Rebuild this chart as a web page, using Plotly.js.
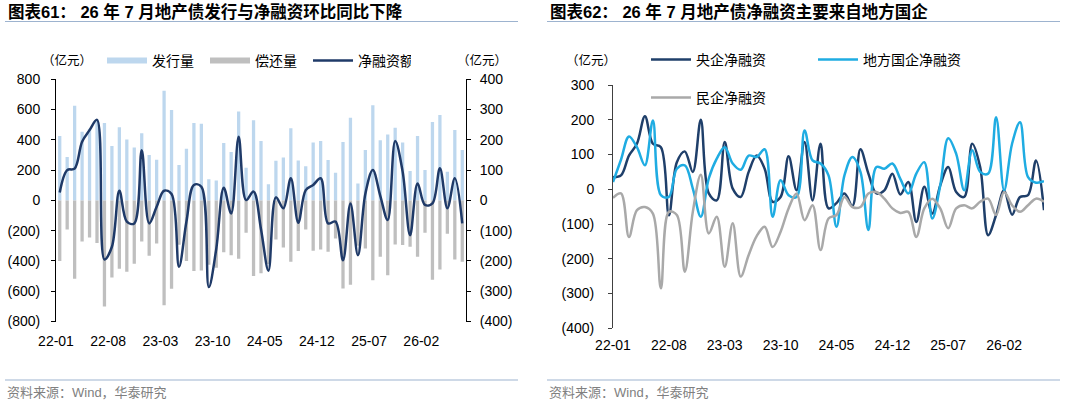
<!DOCTYPE html>
<html>
<head>
<meta charset="utf-8">
<script src="https://cdn.plot.ly/plotly-3.0.1.min.js"></script>
<style>
  body { margin: 0; background: #fff; }
  #chart { width: 1080px; height: 406px; }
</style>
</head>
<body>
<div id="chart"></div>
<script>
// months 22-01 .. 26-07
var months = [];
for (var yy = 22; yy <= 26; yy++) {
  for (var mm = 1; mm <= 12; mm++) {
    if (yy === 26 && mm > 7) break;
    months.push(yy + '-' + (mm < 10 ? '0' : '') + mm);
  }
}
var tickLabels = ['22-01', '22-08', '23-03', '23-10', '24-05', '24-12', '25-07', '26-02'];

// left chart: issuance / repayment (left axis), net financing (right axis), 亿元
var issue = [425, 286, 626, 454, 474, 531, 511, 359, 483, 403, 350, 443, 300, 269, 725, 597, 234, 342, 511, 507,
  139, 132, 379, 319, 588, 216, 529, 392, 106, 262, 284, 476, 264, 225, 383, 392, 267, 183, 386, 546,
  112, 333, 628, 397, 436, 480, 383, 194, 425, 200, 518, 564, 190, 465, 333];
var repay = [-401, -192, -518, -271, -245, -282, -701, -509, -452, -472, -419, -271, -366, -284, -692, -584, -293, -400, -467, -463,
  -425, -445, -342, -362, -385, -214, -499, -482, -420, -258, -311, -405, -335, -193, -333, -324, -339, -251, -582, -557,
  -300, -317, -527, -372, -494, -291, -295, -306, -372, -214, -524, -456, -220, -390, -405];
var net = [26, 100, 105, 194, 232, 266, -195, -153, 32, -70, -76, 166, -76, -21, 32, 21, -219, -70, 51, 45,
  -286, -160, 42, -43, 210, 1, 29, -95, -232, 10, -26, 73, -74, 34, 51, 73, -76, -70, -198, -10,
  -181, 22, 100, 15, -65, 196, 95, -115, 56, -15, -10, 106, -26, 73, -76];

// right chart: net financing by issuer type, 亿元
var centralSoe = [35, 40, 97, 131, 210, 131, 121, -75, 78, 109, 50, 200, -12, -32, 136, 2, -22, 50, 97, 59,
  -36, -22, 95, -3, 136, -32, 131, -55, -40, -12, -48, 115, 45, -12, -3, 45, -15, 21, -94, 7,
  -70, 11, 64, -8, -22, 131, 64, -132, -74, -3, -73, -22, -17, 83, -60];
var localSoe = [21, 85, 152, 121, 69, 198, -17, -22, 59, 69, 2, -79, 31, 88, 121, 74, 56, 97, 93, 115,
  -79, 26, -17, -22, 169, 83, 74, 40, -108, 40, 93, 50, -117, 64, 59, 74, 30, -12, 45, 78,
  -84, 11, 147, 102, -3, 112, 50, 45, 207, -3, 131, 193, 35, 19, 23];
var privateEnt = [-25, -12, -137, -60, -51, -70, -285, -65, -74, -237, -65, 42, -127, -79, -223, -98, -251, -189, -135, -108,
  -166, -122, -55, -12, -89, -46, -175, -84, -74, -22, -51, -51, -12, -8, -27, -55, -68, -65, -137, -55,
  -27, -55, -112, -55, -46, -55, -36, -27, -74, -8, -46, -65, -46, -27, -36];

var leftTickVals = [-800, -600, -400, -200, 0, 200, 400, 600, 800];
var leftTickText = ['(800)', '(600)', '(400)', '(200)', '0', '200', '400', '600', '800'];
var rightTickVals = [-400, -300, -200, -100, 0, 100, 200, 300, 400];
var rightTickText = ['(400)', '(300)', '(200)', '(100)', '0', '100', '200', '300', '400'];
var chart2TickVals = [-400, -300, -200, -100, 0, 100, 200, 300];
var chart2TickText = ['(400)', '(300)', '(200)', '(100)', '0', '100', '200', '300'];

var FONT = "'Liberation Sans', 'Noto Sans CJK SC', sans-serif";
var W = 1080, H = 406;
function px(x) { return x / W; }
function py(y) { return 1 - y / H; }

var idx = months.map(function (m, i) { return i; });
var labelPos = tickLabels.map(function (t) { return months.indexOf(t); });

var data = [
  // legend-only swatches for the bars (wide flat swatches like the reference)
  { x: [null], y: [null], type: 'scatter', mode: 'lines', name: '发行量', legend: 'legend',
    line: { color: '#BDD7EE', width: 6 }, xaxis: 'x', yaxis: 'y', hoverinfo: 'skip' },
  { x: [null], y: [null], type: 'scatter', mode: 'lines', name: '偿还量', legend: 'legend',
    line: { color: '#BFBFBF', width: 6 }, xaxis: 'x', yaxis: 'y', hoverinfo: 'skip' },
  { x: idx, y: issue, type: 'bar', name: '发行量', showlegend: false, width: 0.44,
    marker: { color: '#BDD7EE' }, xaxis: 'x', yaxis: 'y' },
  { x: idx, y: repay, type: 'bar', name: '偿还量', showlegend: false, width: 0.44,
    marker: { color: '#BFBFBF' }, xaxis: 'x', yaxis: 'y' },
  { x: idx, y: net, type: 'scatter', mode: 'lines', name: '净融资额', legend: 'legend',
    line: { color: '#1F3A68', width: 2.5, shape: 'spline', smoothing: 1 }, xaxis: 'x', yaxis: 'y2' },

  { x: idx, y: centralSoe, type: 'scatter', mode: 'lines', name: '央企净融资', legend: 'legend2',
    line: { color: '#1F3F6A', width: 2.5, shape: 'spline', smoothing: 1 }, xaxis: 'x2', yaxis: 'y3' },
  { x: idx, y: localSoe, type: 'scatter', mode: 'lines', name: '地方国企净融资', legend: 'legend2',
    line: { color: '#1FACE2', width: 2.5, shape: 'spline', smoothing: 1 }, xaxis: 'x2', yaxis: 'y3' },
  { x: idx, y: privateEnt, type: 'scatter', mode: 'lines', name: '民企净融资', legend: 'legend3',
    line: { color: '#A9A9A9', width: 2.5, shape: 'spline', smoothing: 1 }, xaxis: 'x2', yaxis: 'y3' }
];

var leftDomY = [py(321.5), py(79.3)];
var rightDomY = [py(328.3), py(85)];
var leftZero = (leftDomY[0] + leftDomY[1]) / 2;
var rightZero = rightDomY[0] + (rightDomY[1] - rightDomY[0]) * 400 / 700;

var legendCommon = {
  orientation: 'h', xanchor: 'left', yanchor: 'middle', bgcolor: 'rgba(0,0,0,0)',
  font: { family: FONT, size: 14, color: '#000' }, itemwidth: 40, entrywidthmode: 'pixels',
  itemclick: false, itemdoubleclick: false
};

var layout = {
  width: W, height: H,
  margin: { l: 0, r: 0, t: 0, b: 0 },
  paper_bgcolor: '#fff', plot_bgcolor: 'rgba(0,0,0,0)',
  font: { family: FONT, size: 14, color: '#000' },
  barmode: 'overlay',
  showlegend: true,
  legend: Object.assign({}, legendCommon, { x: px(102), y: py(61), entrywidth: 48 }),
  legend2: Object.assign({}, legendCommon, { x: px(646), y: py(60), entrywidth: 112 }),
  legend3: Object.assign({}, legendCommon, { x: px(646), y: py(98), entrywidth: 112 }),

  xaxis: {
    domain: [px(56), px(466)], anchor: 'y', range: [-0.5, 54.5],
    tickmode: 'array', tickvals: labelPos.map(function (p) { return p - 0.5; }), ticktext: tickLabels,
    ticks: '', showline: false, showgrid: false, zeroline: false, ticklabelstandoff: 9,
    tickfont: { family: FONT, size: 14, color: '#000' }, fixedrange: true
  },
  xaxis3: {
    overlaying: 'x', anchor: 'free', position: leftZero, range: [-0.5, 54.5],
    tickmode: 'array', tickvals: labelPos.map(function (p) { return p - 0.5; }),
    showticklabels: false, ticks: 'outside', ticklen: 3, tickcolor: '#000',
    showline: true, linecolor: '#000', linewidth: 1, showgrid: false, zeroline: false
  },
  yaxis: {
    domain: leftDomY, anchor: 'x', range: [-800, 800],
    tickmode: 'array', tickvals: leftTickVals, ticktext: leftTickText,
    ticks: 'outside', ticklen: 4, tickcolor: '#000', showline: true, linecolor: '#000', linewidth: 1,
    showgrid: false, zeroline: false, ticklabelstandoff: 8,
    tickfont: { family: FONT, size: 14, color: '#000' }
  },
  yaxis2: {
    overlaying: 'y', side: 'right', anchor: 'x', range: [-400, 400],
    tickmode: 'array', tickvals: rightTickVals, ticktext: rightTickText,
    ticks: 'outside', ticklen: 4, tickcolor: '#000', showline: true, linecolor: '#000', linewidth: 1,
    showgrid: false, zeroline: false, ticklabelstandoff: 6,
    tickfont: { family: FONT, size: 14, color: '#000' }
  },

  xaxis2: {
    domain: [px(613), px(1044)], anchor: 'y3', range: [0, 54],
    tickmode: 'array', tickvals: labelPos, ticktext: tickLabels,
    ticks: '', showline: false, showgrid: false, zeroline: false, ticklabelstandoff: 7,
    tickfont: { family: FONT, size: 14, color: '#000' }
  },
  xaxis4: {
    overlaying: 'x2', anchor: 'free', position: rightZero, range: [0, 54],
    tickmode: 'array', tickvals: labelPos,
    showticklabels: false, ticks: 'outside', ticklen: 3, tickcolor: '#404040',
    showline: true, linecolor: '#404040', linewidth: 1, showgrid: false, zeroline: false
  },
  yaxis3: {
    domain: rightDomY, anchor: 'x2', range: [-400, 300],
    tickmode: 'array', tickvals: chart2TickVals, ticktext: chart2TickText,
    ticks: 'outside', ticklen: 4, tickcolor: '#404040', showline: true, linecolor: '#404040', linewidth: 1,
    showgrid: false, zeroline: false, ticklabelstandoff: 11,
    tickfont: { family: FONT, size: 14, color: '#000' }
  },

  shapes: [
    { type: 'line', xref: 'paper', yref: 'paper', x0: px(5), x1: px(518), y0: py(21.5), y1: py(21.5), line: { color: '#9DB3CF', width: 1 } },
    { type: 'line', xref: 'paper', yref: 'paper', x0: px(547), x1: px(1060), y0: py(21.5), y1: py(21.5), line: { color: '#9DB3CF', width: 1 } },
    { type: 'line', xref: 'paper', yref: 'paper', x0: px(5), x1: px(518), y0: py(380), y1: py(380), line: { color: '#9DB3CF', width: 1 } },
    { type: 'line', xref: 'paper', yref: 'paper', x0: px(547), x1: px(1060), y0: py(380), y1: py(380), line: { color: '#9DB3CF', width: 1 } }
  ],

  annotations: [
    { text: '<b>图表61：\u00a026 年 7 月地产债发行与净融资环比同比下降</b>', xref: 'paper', yref: 'paper',
      x: px(6), y: py(12), xanchor: 'left', yanchor: 'middle', showarrow: false,
      font: { family: FONT, size: 16.5, color: '#000' } },
    { text: '<b>图表62：\u00a026 年 7 月地产债净融资主要来自地方国企</b>', xref: 'paper', yref: 'paper',
      x: px(548), y: py(12), xanchor: 'left', yanchor: 'middle', showarrow: false,
      font: { family: FONT, size: 16.5, color: '#000' } },
    { text: '（亿元）', xref: 'paper', yref: 'paper', x: px(67), y: py(61), xanchor: 'center', yanchor: 'middle',
      showarrow: false, font: { family: FONT, size: 12.5, color: '#000' } },
    { text: '（亿元）', xref: 'paper', yref: 'paper', x: px(482), y: py(61), xanchor: 'center', yanchor: 'middle',
      showarrow: false, font: { family: FONT, size: 12.5, color: '#000' } },
    { text: '（亿元）', xref: 'paper', yref: 'paper', x: px(591), y: py(60), xanchor: 'center', yanchor: 'middle',
      showarrow: false, font: { family: FONT, size: 12.5, color: '#000' } },
    { text: '资料来源：Wind，华泰研究', xref: 'paper', yref: 'paper', x: px(5), y: py(392), xanchor: 'left', yanchor: 'middle',
      showarrow: false, font: { family: FONT, size: 13, color: '#808080' } },
    { text: '资料来源：Wind，华泰研究', xref: 'paper', yref: 'paper', x: px(547), y: py(392), xanchor: 'left', yanchor: 'middle',
      showarrow: false, font: { family: FONT, size: 13, color: '#808080' } }
  ]
};

Plotly.newPlot('chart', data, layout, { displayModeBar: false, staticPlot: true });
</script>
</body>
</html>
